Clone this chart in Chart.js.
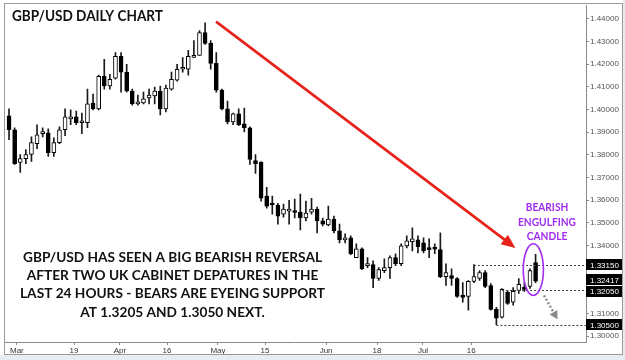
<!DOCTYPE html>
<html><head><meta charset="utf-8">
<style>html,body{margin:0;padding:0;background:#fff;overflow:hidden}#wrap{width:625px;height:360px;position:relative}</style>
<script src="https://cdn.jsdelivr.net/npm/chart.js@4/dist/chart.umd.min.js"></script>
</head><body><div id="wrap"><canvas id="c" width="625" height="360"></canvas></div>
<script>
// ---- data (daily GBP/USD candles) ----
const opens  = [1.3971,1.3910,1.3766,1.3783,1.3801,1.3849,1.3893,1.3897,1.3809,1.3853,1.3910,1.3958,1.3967,1.3941,1.3941,1.4028,1.4002,1.4146,1.4103,1.4138,
                1.4234,1.4164,1.4081,1.4024,1.4028,1.4050,1.4059,1.4081,1.4002,1.4089,1.4129,1.4177,1.4177,1.4229,1.4238,1.4339,1.4291,1.4203,1.4085,1.4002,
                1.3945,1.3980,1.3936,1.3919,1.3774,1.3766,1.3617,1.3582,1.3578,1.3538,1.3551,1.3547,1.3547,1.3521,1.3547,1.3560,1.3508,1.3490,1.3516,1.3464,
                1.3424,1.3433,1.3346,1.3385,1.3311,1.3315,1.3254,1.3289,1.3302,1.3346,1.3319,1.3398,1.3416,1.3424,1.3411,1.3385,1.3385,1.3381,1.3262,1.3267,
                1.3254,1.3179,1.3175,1.3241,1.3254,1.3280,1.3223,1.3118,1.3083,1.3193,1.3149,1.3201,1.3214,1.3219,1.3324];
const highs  = [1.4002,1.3919,1.3801,1.3823,1.3879,1.3932,1.3919,1.3914,1.3875,1.3923,1.4002,1.3998,1.3993,1.3984,1.4089,1.4068,1.4151,1.4221,1.4155,1.4251,
                1.4251,1.4199,1.4089,1.4063,1.4076,1.4089,1.4098,1.4103,1.4107,1.4164,1.4199,1.4229,1.4260,1.4304,1.4348,1.4382,1.4304,1.4251,1.4089,1.4037,
                1.3984,1.4002,1.4006,1.3923,1.3801,1.3770,1.3656,1.3617,1.3586,1.3582,1.3599,1.3604,1.3626,1.3595,1.3608,1.3569,1.3521,1.3573,1.3529,1.3494,
                1.3451,1.3442,1.3407,1.3389,1.3346,1.3332,1.3302,1.3341,1.3354,1.3363,1.3407,1.3442,1.3477,1.3442,1.3433,1.3429,1.3407,1.3455,1.3319,1.3297,
                1.3258,1.3236,1.3245,1.3315,1.3289,1.3289,1.3232,1.3127,1.3210,1.3201,1.3214,1.3254,1.3236,1.3297,1.3360];
const lows   = [1.3866,1.3757,1.3722,1.3761,1.3770,1.3827,1.3879,1.3792,1.3792,1.3849,1.3884,1.3932,1.3932,1.3893,1.3919,1.3998,1.3998,1.4089,1.4089,1.4133,
                1.4076,1.4076,1.4019,1.4019,1.4024,1.4024,1.4024,1.3976,1.3989,1.4085,1.4124,1.4164,1.4151,1.4229,1.4238,1.4286,1.4177,1.4076,1.3998,1.3936,
                1.3932,1.3928,1.3901,1.3757,1.3718,1.3595,1.3564,1.3538,1.3494,1.3525,1.3494,1.3521,1.3468,1.3508,1.3538,1.3455,1.3486,1.3486,1.3455,1.3411,
                1.3411,1.3359,1.3346,1.3293,1.3302,1.3214,1.3245,1.3280,1.3254,1.3311,1.3311,1.3389,1.3376,1.3367,1.3367,1.3346,1.3363,1.3258,1.3223,1.3223,
                1.3171,1.3149,1.3114,1.3236,1.3245,1.3214,1.3114,1.3050,1.3079,1.3140,1.3136,1.3188,1.3197,1.3210,1.3236];
const closes = [1.3910,1.3761,1.3783,1.3801,1.3853,1.3888,1.3901,1.3809,1.3853,1.3910,1.3967,1.3967,1.3941,1.3949,1.4024,1.4002,1.4146,1.4103,1.4133,1.4234,
                1.4164,1.4081,1.4024,1.4028,1.4046,1.4063,1.4081,1.4002,1.4094,1.4133,1.4177,1.4179,1.4234,1.4238,1.4339,1.4291,1.4203,1.4085,1.4002,1.3945,
                1.3980,1.3932,1.3919,1.3779,1.3761,1.3608,1.3573,1.3578,1.3529,1.3560,1.3553,1.3545,1.3521,1.3543,1.3560,1.3508,1.3494,1.3516,1.3464,1.3424,
                1.3433,1.3363,1.3385,1.3297,1.3313,1.3254,1.3293,1.3302,1.3346,1.3319,1.3398,1.3420,1.3429,1.3394,1.3376,1.3381,1.3383,1.3262,1.3280,1.3254,
                1.3175,1.3171,1.3241,1.3262,1.3280,1.3219,1.3118,1.3079,1.3206,1.3144,1.3197,1.3228,1.3206,1.3289,1.3242];

const xTickPositions = [1.4, 11.6, 19.8, 28.2, 37.3, 45.7, 56.6, 65.7, 73.9, 82.5];
const xTickLabels    = ['Mar','19','Apr','16','May','15','Jun','18','Jul','16'];
const yTickValues    = [1.30,1.31,1.32,1.33,1.34,1.35,1.36,1.37,1.38,1.39,1.40,1.41,1.42,1.43,1.44];

const levelPrices     = [1.3315, 1.3205, 1.3050];
const levelStartIndex = [83, 88, 87];
const boxPrices       = [1.3315, 1.32417, 1.3205, 1.3050];

const titleText   = 'GBP/USD DAILY CHART';
const noteLines   = ['GBP/USD HAS SEEN A BIG BEARISH REVERSAL','AFTER TWO UK CABINET DEPATURES IN THE','LAST 24 HOURS - BEARS ARE EYEING SUPPORT','AT 1.3205 AND 1.3050 NEXT.'];
const calloutLines = ['BEARISH','ENGULFING','CANDLE'];

// annotation anchors in data space (index, price)
const redArrowFrom = {x: 36.96, y: 1.4387};
const redArrowTo   = {x: 90.4,  y: 1.3389};
const ellipseBox   = {xMin: 91.8, xMax: 95.4, yMin: 1.3179, yMax: 1.3407};
const grayArrowFrom = {x: 95.5, y: 1.3179};
const grayArrowTo   = {x: 97.9, y: 1.3074};

// ---- chart ----
const idx = opens.map((_, i) => i);
const TXT = 'Lato, "Open Sans", sans-serif';
const AX  = '"Liberation Sans", Arial, sans-serif';

// draw text with a given font size, squeezed horizontally so that the reference line width is matched
function fittedLines(ctx, lines, refIdx, size, width, x, y0, lh, align) {
  ctx.font = 'bold ' + size + 'px ' + TXT;
  const w = ctx.measureText(lines[refIdx]).width;
  const sx = width / w;
  ctx.save();
  ctx.translate(x, 0); ctx.scale(sx, 1);
  ctx.textAlign = align;
  lines.forEach((t, i) => ctx.fillText(t, 0, y0 + i * lh));
  ctx.restore();
}
function arrowHead(ctx, x1, y1, x2, y2, len, half, color) {
  const a = Math.atan2(y2 - y1, x2 - x1);
  const bx = x2 - len * Math.cos(a), by = y2 - len * Math.sin(a);
  ctx.fillStyle = color;
  ctx.beginPath();
  ctx.moveTo(x2, y2);
  ctx.lineTo(bx + half * Math.sin(a), by - half * Math.cos(a));
  ctx.lineTo(bx - half * Math.sin(a), by + half * Math.cos(a));
  ctx.closePath(); ctx.fill();
  return {bx, by};
}

const overlay = {
  id: 'overlay',
  beforeDraw(chart) {
    const c = chart.ctx; c.save();
    c.fillStyle = '#ffffff'; c.fillRect(0, 0, 625, 360);
    c.fillStyle = '#e8edf2'; c.fillRect(0, 355, 625, 5); c.fillRect(623, 0, 2, 360);
    c.restore();
  },
  afterDraw(chart) {
    const c = chart.ctx, xs = chart.scales.x, ys = chart.scales.y, ca = chart.chartArea;
    c.save();
    // level lines
    c.strokeStyle = '#444'; c.lineWidth = 1; c.setLineDash([2, 2]);
    levelPrices.forEach((p, i) => {
      const y = Math.round(ys.getPixelForValue(p)) + 0.5;
      c.beginPath(); c.moveTo(xs.getPixelForValue(levelStartIndex[i]), y); c.lineTo(ca.right, y); c.stroke();
    });
    c.setLineDash([]);
    // price boxes on the axis
    const H = 11.5;
    const bs = boxPrices.map(p => ({p, y: ys.getPixelForValue(p)})).sort((a, b) => a.y - b.y);
    for (let k = 0; k < 6; k++) for (let i = 1; i < bs.length; i++) {
      const g = bs[i].y - bs[i - 1].y;
      if (g < H) { const d = (H - g) / 2; bs[i - 1].y -= d; bs[i].y += d; }
    }
    c.font = '8px ' + AX; c.textBaseline = 'middle'; c.textAlign = 'left';
    bs.forEach(b => {
      c.fillStyle = '#000'; c.fillRect(ca.right, Math.round(b.y - 5.5), 36, 11);
      c.fillStyle = '#fff'; c.fillText(b.p.toFixed(5), ca.right + 4, Math.round(b.y) + 0.5);
    });
    // red arrow
    const rx1 = xs.getPixelForValue(redArrowFrom.x), ry1 = ys.getPixelForValue(redArrowFrom.y);
    const rx2 = xs.getPixelForValue(redArrowTo.x), ry2 = ys.getPixelForValue(redArrowTo.y);
    const hb = arrowHead(c, rx1, ry1, rx2, ry2, 14, 6, '#e8211b');
    c.strokeStyle = '#e8211b'; c.lineWidth = 2.6;
    c.beginPath(); c.moveTo(rx1, ry1); c.lineTo(hb.bx + (rx2 - hb.bx) * 0.2, hb.by + (ry2 - hb.by) * 0.2); c.stroke();
    // ellipse
    const ex1 = xs.getPixelForValue(ellipseBox.xMin), ex2 = xs.getPixelForValue(ellipseBox.xMax);
    const ey1 = ys.getPixelForValue(ellipseBox.yMax), ey2 = ys.getPixelForValue(ellipseBox.yMin);
    c.strokeStyle = '#a02df0'; c.lineWidth = 1.6;
    c.beginPath(); c.ellipse((ex1 + ex2) / 2, (ey1 + ey2) / 2, (ex2 - ex1) / 2, (ey2 - ey1) / 2, 0, 0, Math.PI * 2); c.stroke();
    // gray dotted arrow
    const gx1 = xs.getPixelForValue(grayArrowFrom.x), gy1 = ys.getPixelForValue(grayArrowFrom.y);
    const gx2 = xs.getPixelForValue(grayArrowTo.x), gy2 = ys.getPixelForValue(grayArrowTo.y);
    const gb = arrowHead(c, gx1, gy1, gx2, gy2, 8, 4.5, '#8c8c8c');
    c.strokeStyle = '#8c8c8c'; c.lineWidth = 2.5; c.setLineDash([2, 2]);
    c.beginPath(); c.moveTo(gx1, gy1); c.lineTo(gb.bx, gb.by); c.stroke(); c.setLineDash([]);
    // texts
    c.textBaseline = 'alphabetic';
    c.fillStyle = '#111';
    fittedLines(c, [titleText], 0, 15.5, 151, 12, 21, 0, 'left');
    fittedLines(c, noteLines, 0, 14, 299, 172.5, 261.5, 18.4, 'center');
    c.fillStyle = '#a02df0';
    fittedLines(c, calloutLines, 1, 11.5, 58, 547, 211, 14.5, 'center');
    // frame
    c.strokeStyle = '#9a9a9a'; c.lineWidth = 1;
    c.strokeRect(4.5, 3.5, 618, 351);
    c.restore();
  }
};

new Chart(document.getElementById('c'), {
  type: 'bar',
  data: {
    datasets: [
      { label: 'body', data: idx.map(i => ({x: i, y: [opens[i], closes[i]]})),
        backgroundColor: idx.map(i => closes[i] >= opens[i] ? '#ffffff' : '#000000'),
        borderColor: '#000', borderWidth: 1, borderSkipped: false, barThickness: 4, minBarLength: 2,
        grouped: false, order: 0 },
      { label: 'wick', data: idx.map(i => ({x: i, y: [lows[i], highs[i]]})),
        backgroundColor: '#1a1a1a', borderWidth: 0, barThickness: 1, grouped: false, order: 1 }
    ]
  },
  options: {
    responsive: false, animation: false, devicePixelRatio: 1, events: [],
    layout: {padding: {left: 4, top: 3, right: 3, bottom: 5}},
    plugins: {legend: {display: false}, tooltip: {enabled: false}},
    scales: {
      x: { type: 'linear', min: -0.9, max: 103.0, offset: false,
        grid: {offset: false, drawOnChartArea: false, drawTicks: true, tickLength: 3, color: '#888'},
        border: {display: true, color: '#8a8a8a'},
        afterBuildTicks: s => { s.ticks = xTickPositions.map(v => ({value: v})); },
        ticks: {autoSkip: false, maxRotation: 0, padding: 1, color: '#333', font: {family: AX, size: 8},
          callback: (v, i) => xTickLabels[i]},
        afterFit: s => { s.height = 13; } },
      y: { type: 'linear', position: 'right', min: 1.29738, max: 1.44569, beginAtZero: false,
        grid: {drawOnChartArea: false, drawTicks: true, tickLength: 3, color: '#888'},
        border: {display: true, color: '#8a8a8a'},
        afterBuildTicks: s => { s.ticks = yTickValues.map(v => ({value: v})); },
        ticks: {autoSkip: false, padding: 1, color: '#555', font: {family: AX, size: 8},
          callback: v => boxPrices.some(p => Math.abs(p - v) < 0.003) ? '' : v.toFixed(5)},
        afterFit: s => { s.width = 36; } }
    }
  },
  plugins: [overlay]
});
</script></body></html>
